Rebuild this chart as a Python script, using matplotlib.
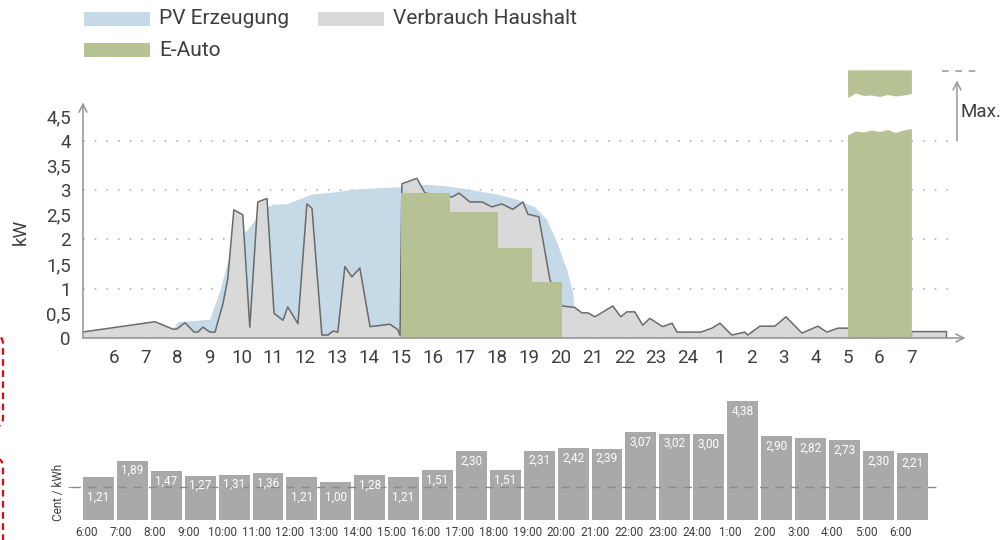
import numpy as np
import matplotlib
matplotlib.use("Agg")
import matplotlib.pyplot as plt
from matplotlib.patches import Rectangle, FancyBboxPatch
from matplotlib.transforms import IdentityTransform

plt.rcParams["font.family"] = ["Roboto", "DejaVu Sans"]

# Load profile (hours, 5 = 5:00 of the first day, 29 = 5:00 next morning)
load_hours = [5.0, 7.29, 7.85, 7.97, 8.23, 8.51, 8.63, 8.79, 9.01, 9.17, 9.42, 9.57,
              9.76, 10.04, 10.26, 10.51, 10.8, 11.02, 11.3, 11.45, 11.77, 12.05, 12.21,
              12.52, 12.71, 12.87, 13.02, 13.24, 13.46, 13.71, 14.03, 14.65, 14.9, 14.97,
              15.03, 15.5, 15.75, 16.2, 16.6, 16.82, 17.16, 17.54, 17.85, 18.16, 18.51,
              18.82, 18.98, 19.32, 19.67, 20.04, 20.45, 20.67, 20.86, 21.08, 21.64, 21.89,
              22.08, 22.33, 22.58, 22.8, 23.2, 23.5, 23.65, 24.4, 24.75, 25.0, 25.37,
              25.78, 25.87, 26.25, 26.72, 27.07, 27.57, 28.07, 28.35, 28.7, 29.0, 31.0, 32.1]
load_kw = [0.12, 0.33, 0.18, 0.18, 0.31, 0.12, 0.12, 0.22, 0.12, 0.12, 0.7, 1.2,
           2.6, 2.5, 0.22, 2.76, 2.83, 0.5, 0.36, 0.63, 0.29, 2.72, 2.63,
           0.06, 0.06, 0.14, 0.12, 1.45, 1.24, 1.42, 0.23, 0.28, 0.17, 0.05,
           3.13, 3.24, 2.94, 2.9, 2.86, 2.94, 2.76, 2.76, 2.66, 2.72, 2.61,
           2.76, 2.51, 2.46, 1.18, 0.65, 0.62, 0.51, 0.51, 0.43, 0.65, 0.43,
           0.53, 0.53, 0.26, 0.4, 0.23, 0.3, 0.12, 0.12, 0.2, 0.3, 0.06,
           0.12, 0.06, 0.24, 0.24, 0.43, 0.1, 0.24, 0.12, 0.2, 0.2, 0.13, 0.13]

# PV generation
pv_hours = [7.85, 8.0, 9.0, 9.32, 9.73, 10.17, 10.67, 11.0, 11.4, 12.2, 12.87, 13.5,
            14.3, 15.0, 15.8, 16.5, 17.3, 18.0, 18.6, 19.2, 19.57, 19.89, 20.2, 20.39,
            20.42, 20.45]
pv_kw = [0.18, 0.33, 0.38, 0.97, 1.95, 2.19, 2.62, 2.72, 2.72, 2.92, 2.96, 3.02,
         3.05, 3.07, 3.12, 3.08, 3.0, 2.92, 2.82, 2.66, 2.4, 1.93, 1.38, 0.9,
         0.6, 0.0]

# E-Auto charging in the afternoon (step edges / levels)
ev_edges = [15.0, 16.55, 18.05, 19.1, 20.05]
ev_kw = [2.95, 2.56, 1.83, 1.14, 1.14]

# E-Auto charging at night (broken bar, 5:00-7:00)
ev_night_x = [29.0, 29.25, 29.5, 29.75, 30.0, 30.25, 30.5, 30.75, 31.0]
ev_night_low_top = [4.12, 4.2, 4.18, 4.22, 4.19, 4.23, 4.17, 4.22, 4.25]
ev_night_high_bottom = [4.88, 4.97, 4.92, 4.93, 4.9, 4.94, 4.91, 4.93, 4.96]
ev_night_top = 5.44
max_level = 5.42

hour_ticks = list(range(6, 32))
hour_labels = [str(h if h <= 24 else h - 24) for h in hour_ticks]
kw_ticks = [0, 0.5, 1, 1.5, 2, 2.5, 3, 3.5, 4, 4.5]

# Electricity price per hour
price_labels = ["6:00", "7:00", "8:00", "9:00", "10:00", "11:00", "12:00", "13:00",
                "14:00", "15:00", "16:00", "17:00", "18:00", "19:00", "20:00", "21:00",
                "22:00", "23:00", "24:00", "1:00", "2:00", "3:00", "4:00", "5:00", "6:00"]
price = [1.21, 1.89, 1.47, 1.27, 1.31, 1.36, 1.21, 1.00, 1.28, 1.21, 1.51, 2.30, 1.51,
         2.31, 2.42, 2.39, 3.07, 3.02, 3.00, 4.38, 2.90, 2.82, 2.73, 2.30, 2.21]
price_ref = 0.79
price_base = -0.583

PV_C = "#c5d9e7"
LOAD_C = "#d9d9d9"
LOAD_EDGE = "#6a6a6a"
EV_C = "#b6c194"
AXIS_C = "#9a9a9a"
TEXT_C = "#3f3f3f"
BAR_C = "#a9a9a9"

W, H = 1004, 540
fig = plt.figure(figsize=(W / 100, H / 100), dpi=100)


def fx(x):
    return x / W


def fy(y):
    return 1 - y / H


# ---- top chart ----
ax = fig.add_axes([82 / W, 202 / H, 883.6 / W, 278 / H])
ax.set_xlim(5.0, 32.7)
ax.set_ylim(0, 5.64)
for s in ax.spines.values():
    s.set_visible(False)

for g in [1, 2, 3, 4]:
    ax.plot([5.03, 32.4], [g, g], color="#b5b5b5", lw=1.2,
            ls=(0, (1, 6)), zorder=0.5)

ax.fill_between(pv_hours, 0, pv_kw, color=PV_C, lw=0, zorder=1)
ax.fill_between(load_hours, 0, load_kw, color=LOAD_C, lw=0, zorder=2)
ax.plot(load_hours, load_kw, color=LOAD_EDGE, lw=1.1, zorder=2.1)
ax.plot([31.0, 31.0], [0, load_kw[-1]], color=LOAD_EDGE, lw=1.0, zorder=2.1)
ax.plot([32.1, 32.1], [0, load_kw[-1]], color=LOAD_EDGE, lw=1.0, zorder=2.1)

ax.fill_between(ev_edges, 0, ev_kw, step="post", color=EV_C, lw=0, zorder=3)
ax.fill_between(ev_night_x, 0, ev_night_low_top, color=EV_C, lw=0, zorder=3)
ax.fill_between(ev_night_x, ev_night_high_bottom, ev_night_top, color=EV_C,
                lw=0, zorder=3)

# axes with arrows
arrow = dict(arrowstyle="->", color=AXIS_C, lw=1.2, shrinkA=0, shrinkB=0,
             mutation_scale=14)
ax.annotate("", xy=(32.7, 0), xytext=(5.03, 0), arrowprops=arrow,
            annotation_clip=False, zorder=4)
ax.annotate("", xy=(5.03, 4.78), xytext=(5.03, 0), arrowprops=arrow,
            annotation_clip=False, zorder=4)

ax.set_xticks(hour_ticks)
ax.set_xticklabels(hour_labels)
ax.tick_params(axis="x", direction="in", length=5, width=1, color=AXIS_C,
               pad=8, labelsize=13.5, labelcolor=TEXT_C)
ax.set_yticks(kw_ticks)
ax.set_yticklabels([f"{t:g}".replace(".", ",") for t in kw_ticks])
ax.tick_params(axis="y", length=0, pad=8, labelsize=13.5, labelcolor=TEXT_C)
ax.set_ylabel("kW", fontsize=13.5, color=TEXT_C)
ax.yaxis.set_label_coords(-0.059, 0.381)

# Max. marker
ax.plot([31.96, 33.05], [max_level, max_level], color="#a0a0a0", lw=1.2,
        ls=(0, (4, 4)), clip_on=False)
ax.annotate("", xy=(32.43, 5.23), xytext=(32.43, 4.0),
            arrowprops=dict(arrowstyle="->", color="#a0a0a0", lw=1.2,
                            shrinkA=0, shrinkB=0, mutation_scale=14),
            annotation_clip=False)
ax.text(32.55, 4.58, "Max.", fontsize=13.5, color=TEXT_C, va="center",
        ha="left", clip_on=False)

# ---- legend ----
legend_items = [("PV Erzeugung", PV_C, 84, 12), ("Verbrauch Haushalt", LOAD_C, 318, 12),
                ("E-Auto", EV_C, 84, 43)]
for name, col, x0, y0 in legend_items:
    fig.add_artist(Rectangle((fx(x0), fy(y0 + 14)), 66 / W, 14 / H,
                             transform=fig.transFigure, color=col, lw=0))
    fig.text(fx(x0 + 75), fy(y0 + 7), name, fontsize=15, color=TEXT_C,
             va="center", ha="left")

# ---- price chart ----
ax2 = fig.add_axes([68 / W, 20 / H, 871.2 / W, 124.9 / H])
ax2.set_xlim(-0.9, 24.8)
ax2.set_ylim(price_base, 4.62)
for s in ax2.spines.values():
    s.set_visible(False)

xs = np.arange(len(price))
ax2.bar(xs, [p - price_base for p in price], bottom=price_base, width=0.91,
        color=BAR_C, lw=0, zorder=1)
ax2.plot([-0.78, 24.75], [price_ref, price_ref], color="#8a8a8a", lw=1.0,
         ls=(0, (6, 5)), zorder=2)
for x, p in zip(xs, price):
    ty = p - 0.42 if p >= 1.25 else 0.375
    ax2.text(x, ty, f"{p:.2f}".replace(".", ","), color="white", fontsize=8.5,
             ha="center", va="center", zorder=3)

ax2.set_xticks(xs - 0.35)
ax2.set_xticklabels(price_labels)
ax2.tick_params(axis="x", length=0, pad=4, labelsize=8.5, labelcolor=TEXT_C)
ax2.set_yticks([price_ref])
ax2.set_yticklabels([""])
ax2.tick_params(axis="y", direction="in", length=4, color="#999999")
ax2.set_ylabel("Cent / kWh", fontsize=8.5, color=TEXT_C)
ax2.yaxis.set_label_coords(-0.003, 0.224)

# red dashed frames at the left edge
for y_top, y_bot in [(335, 427), (458, 600)]:
    fig.add_artist(FancyBboxPatch((-40, H - y_bot), 43, y_bot - y_top,
                                  boxstyle="round,pad=0,rounding_size=9",
                                  transform=IdentityTransform(), fill=False,
                                  ec="#e30613", lw=1.6, ls=(0, (3, 2))))

fig.savefig("out.png", dpi=100)
